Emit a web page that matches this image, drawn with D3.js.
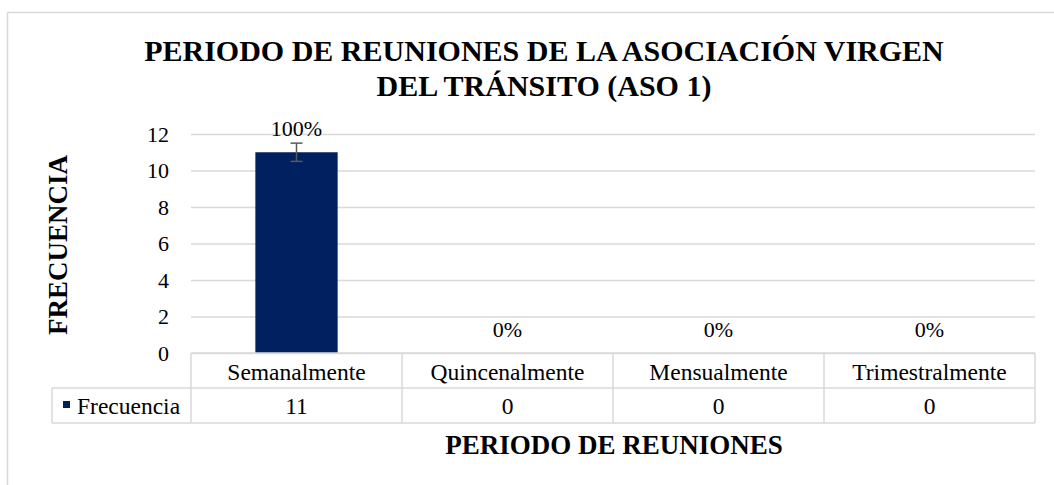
<!DOCTYPE html>
<html>
<head>
<meta charset="utf-8">
<script src="https://cdn.jsdelivr.net/npm/d3@7"></script>
<style>
  html, body { margin: 0; padding: 0; background: #fff; }
  svg text { font-family: "Liberation Serif", "Times New Roman", serif; }
</style>
</head>
<body>
<svg id="chart" width="1054" height="485"></svg>
<script>
const categories = ["Semanalmente", "Quincenalmente", "Mensualmente", "Trimestralmente"]
const frecuencia = [11, 0, 0, 0]
const porcentajes = ["100%", "0%", "0%", "0%"]
const errores = [0.5, 0, 0, 0]
const yTicks = [0, 2, 4, 6, 8, 10, 12]
const seriesName = "Frecuencia"
const titleLines = ["PERIODO DE REUNIONES DE LA ASOCIACIÓN VIRGEN", "DEL TRÁNSITO (ASO 1)"]
const xTitle = "PERIODO DE REUNIONES"
const yTitle = "FRECUENCIA"

const width = 1054, height = 485
const plotL = 191, plotR = 1035
const plotTop = 134, plotBottom = 353
const rowH = 35
const legendL = 52
const grid = "#d9d9d9"
const barColor = "#002060"

const svg = d3.select("#chart")

// outer chart border (runs off right/bottom of the picture)
svg.append("rect")
  .attr("x", 7.5).attr("y", 12.5)
  .attr("width", 1100).attr("height", 600)
  .attr("fill", "none").attr("stroke", grid).attr("stroke-width", 1.5)

const xScale = d3.scaleBand().domain(categories).range([plotL, plotR])
  .paddingInner(0.61).paddingOuter(0.305)
const colScale = d3.scaleBand().domain(categories).range([plotL, plotR])
const yScale = d3.scaleLinear().domain([0, 12]).range([plotBottom, plotTop])

// gridlines + y labels via axis
const yAxis = d3.axisLeft(yScale).tickValues(yTicks).tickSize(-(plotR - plotL)).tickPadding(22)
const yAxisG = svg.append("g").attr("transform", `translate(${plotL},0)`).call(yAxis)
yAxisG.select(".domain").remove()
yAxisG.selectAll(".tick line").attr("stroke", grid).attr("stroke-width", 1.5)
yAxisG.selectAll(".tick text")
  .attr("fill", "#000")
  .style("font-size", "22px")
  .style("font-family", "'Liberation Serif', serif")
  .attr("dy", "0.33em")

// bars
svg.append("g").selectAll("rect")
  .data(frecuencia)
  .join("rect")
  .attr("x", (d, i) => xScale(categories[i]))
  .attr("width", xScale.bandwidth())
  .attr("y", d => yScale(d))
  .attr("height", d => plotBottom - yScale(d))
  .attr("fill", barColor)

// error bars
const errG = svg.append("g").attr("stroke", "#595959").attr("stroke-width", 1.5)
frecuencia.forEach((d, i) => {
  if (!errores[i]) return
  const cx = xScale(categories[i]) + xScale.bandwidth() / 2
  const y1 = yScale(d + errores[i]), y2 = yScale(d - errores[i])
  errG.append("line").attr("x1", cx).attr("x2", cx).attr("y1", y1).attr("y2", y2)
  errG.append("line").attr("x1", cx - 6).attr("x2", cx + 6).attr("y1", y1).attr("y2", y1)
  errG.append("line").attr("x1", cx - 6).attr("x2", cx + 6).attr("y1", y2).attr("y2", y2)
})

// data labels
svg.append("g").selectAll("text")
  .data(porcentajes)
  .join("text")
  .attr("x", (d, i) => xScale(categories[i]) + xScale.bandwidth() / 2)
  .attr("y", (d, i) => yScale(frecuencia[i]) - 16)
  .attr("text-anchor", "middle")
  .style("font-size", "22px")
  .text(d => d)

// data table
const tbl = svg.append("g")
const tTop = plotBottom, tMid = plotBottom + rowH, tBot = plotBottom + 2 * rowH
const line = (x1, y1, x2, y2) => tbl.append("line")
  .attr("x1", x1).attr("y1", y1).attr("x2", x2).attr("y2", y2)
  .attr("stroke", grid).attr("stroke-width", 1.5)
line(plotL, tTop, plotR, tTop)
line(legendL, tMid, plotR, tMid)
line(legendL, tBot, plotR, tBot)
line(legendL, tMid, legendL, tBot)
categories.forEach(c => line(colScale(c), tTop, colScale(c), tBot))
line(plotR, tTop, plotR, tBot)

tbl.selectAll("text.cat")
  .data(categories)
  .join("text")
  .attr("class", "cat")
  .attr("x", d => colScale(d) + colScale.bandwidth() / 2)
  .attr("y", tTop + 27)
  .attr("text-anchor", "middle")
  .style("font-size", "23.5px")
  .text(d => d)

tbl.selectAll("text.val")
  .data(frecuencia)
  .join("text")
  .attr("class", "val")
  .attr("x", (d, i) => colScale(categories[i]) + colScale.bandwidth() / 2)
  .attr("y", tMid + 26)
  .attr("text-anchor", "middle")
  .style("font-size", "23.5px")
  .text(d => d)

tbl.append("rect")
  .attr("x", 63).attr("y", tMid + 13)
  .attr("width", 7).attr("height", 7)
  .attr("fill", barColor)
tbl.append("text")
  .attr("x", 77).attr("y", tMid + 26)
  .style("font-size", "23.5px")
  .text(seriesName)

// titles
svg.append("g").selectAll("text")
  .data(titleLines)
  .join("text")
  .attr("x", 544)
  .attr("y", (d, i) => 61 + i * 35)
  .attr("text-anchor", "middle")
  .style("font-size", "30px")
  .style("font-weight", "bold")
  .text(d => d)

svg.append("text")
  .attr("x", 614).attr("y", 454)
  .attr("text-anchor", "middle")
  .style("font-size", "27px")
  .style("font-weight", "bold")
  .text(xTitle)

svg.append("text")
  .attr("transform", "translate(67,245) rotate(-90)")
  .attr("text-anchor", "middle")
  .style("font-size", "27px")
  .style("font-weight", "bold")
  .text(yTitle)
</script>
</body>
</html>
